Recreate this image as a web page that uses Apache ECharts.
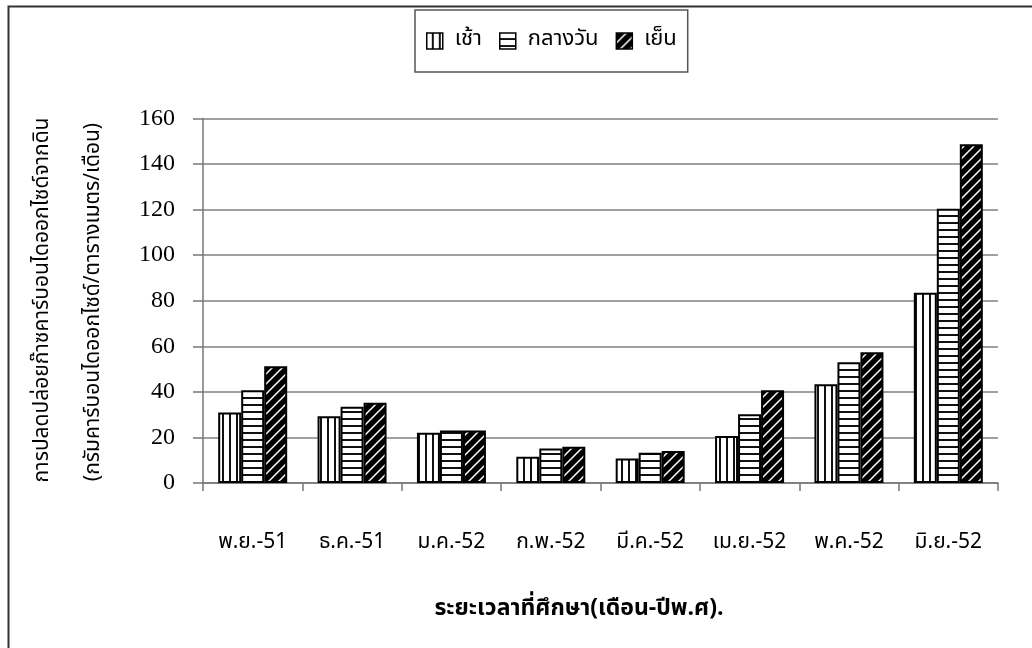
<!DOCTYPE html>
<html>
<head>
<meta charset="utf-8">
<script src="https://cdn.jsdelivr.net/npm/echarts@6/dist/echarts.min.js"></script>
<style>
  html, body { margin: 0; padding: 0; background: #fff; }
  #chart { width: 1032px; height: 648px; }
</style>
</head>
<body>
<div id="chart"></div>
<script>
// Months of the study period (Thai short month - Buddhist year)
const categories = ['พ.ย.-51', 'ธ.ค.-51', 'ม.ค.-52', 'ก.พ.-52', 'มี.ค.-52', 'เม.ย.-52', 'พ.ค.-52', 'มิ.ย.-52'];
// Soil CO2 emission, g CO2 / m2 / month
const morning = [30.9, 29.3, 22.1, 11.5, 10.7, 20.6, 43.3, 83.5];
const midday  = [40.7, 33.5, 23.0, 15.1, 13.3, 30.2, 53.0, 120.4];
const evening = [51.2, 35.2, 23.0, 15.9, 14.1, 40.7, 57.4, 148.7];
const seriesNames = ['เช้า', 'กลางวัน', 'เย็น'];
const yTicks = [0, 20, 40, 60, 80, 100, 120, 140, 160];

const thaiFont = '"Noto Sans Thai", "Noto Sans", "DejaVu Sans", sans-serif';

// Hatch fills drawn on small tiles
function tile(w, h, draw) {
  const c = document.createElement('canvas');
  c.width = w; c.height = h;
  const g = c.getContext('2d');
  draw(g, w, h);
  return c;
}
const vertHatch = tile(7, 7, (g, w, h) => {
  g.fillStyle = '#fff'; g.fillRect(0, 0, w, h);
  g.fillStyle = '#111'; g.fillRect(5, 0, 2, h);
});
const horzHatch = tile(7, 7, (g, w, h) => {
  g.fillStyle = '#fff'; g.fillRect(0, 0, w, h);
  g.fillStyle = '#111'; g.fillRect(0, 5, w, 2);
});
const diagHatch = tile(10, 10, (g, w, h) => {
  g.fillStyle = '#000'; g.fillRect(0, 0, w, h);
  g.strokeStyle = '#fff'; g.lineWidth = 1.5;
  g.beginPath();
  g.moveTo(-2, h + 2); g.lineTo(w + 2, -2);
  g.moveTo(-2, 2); g.lineTo(2, -2);
  g.moveTo(w - 2, h + 2); g.lineTo(w + 2, h - 2);
  g.stroke();
});
const fills = [vertHatch, horzHatch, diagHatch];
const values = [morning, midday, evening];

const chart = echarts.init(document.getElementById('chart'), null, { renderer: 'canvas' });

chart.setOption({
  animation: false,
  backgroundColor: '#fff',
  grid: { left: 203, right: 34, top: 118.5, bottom: 165, containLabel: false },
  legend: {
    data: seriesNames,
    left: 415, top: 10,
    padding: [20, 11, 20, 11],
    itemWidth: 16, itemHeight: 16, itemGap: 17,
    borderColor: '#555', borderWidth: 1.5,
    icon: 'rect',
    textStyle: { fontFamily: thaiFont, fontSize: 22, color: '#000', padding: [0, 0, 0, 7] },
    itemStyle: { borderColor: '#000', borderWidth: 1.5 }
  },
  xAxis: {
    type: 'category',
    data: categories,
    axisLine: { lineStyle: { color: '#777', width: 1.5 } },
    axisTick: { show: true, interval: 0, length: 8, lineStyle: { color: '#777', width: 1.5 } },
    axisLabel: { interval: 0, margin: 50, fontFamily: thaiFont, fontSize: 21, color: '#000' }
  },
  yAxis: {
    type: 'value',
    min: 0, max: 160, interval: 20,
    axisLine: { show: true, lineStyle: { color: '#777', width: 1.5 } },
    axisTick: { show: true, length: 10, lineStyle: { color: '#777', width: 1.5 } },
    axisLabel: {
      margin: 28, fontFamily: '"Liberation Serif", "Times New Roman", serif', fontSize: 24, color: '#000',
      formatter: v => (yTicks.includes(v) ? String(v) : '')
    },
    splitLine: { show: true, lineStyle: { color: '#808080', width: 1.5 } }
  },
  series: seriesNames.map((name, i) => ({
    name,
    type: 'bar',
    data: values[i],
    barWidth: 23,
    barGap: '0%',
    itemStyle: {
      color: { image: fills[i], repeat: 'repeat' },
      borderColor: '#000',
      borderWidth: 2
    }
  })),
  graphic: [
    {
      type: 'rect', silent: true,
      shape: { x: 8.5, y: 6.5, width: 1100, height: 1000 },
      style: { fill: 'none', stroke: '#333', lineWidth: 2 }
    },
    {
      type: 'text', silent: true,
      x: 44, y: 300, rotation: Math.PI / 2,
      style: {
        text: 'การปลดปล่อยก๊าซคาร์บอนไดออกไซด์จากดิน',
        font: '21px ' + thaiFont, fill: '#000',
        align: 'center', verticalAlign: 'middle'
      }
    },
    {
      type: 'text', silent: true,
      x: 95, y: 302, rotation: Math.PI / 2,
      style: {
        text: '(กรัมคาร์บอนไดออกไซด์/ตารางเมตร/เดือน)',
        font: '21px ' + thaiFont, fill: '#000',
        align: 'center', verticalAlign: 'middle'
      }
    },
    {
      type: 'text', silent: true,
      x: 579, y: 610,
      style: {
        text: 'ระยะเวลาที่ศึกษา(เดือน-ปีพ.ศ).',
        font: 'bold 23px ' + thaiFont, fill: '#000',
        align: 'center', verticalAlign: 'middle'
      }
    }
  ]
});
</script>
</body>
</html>
